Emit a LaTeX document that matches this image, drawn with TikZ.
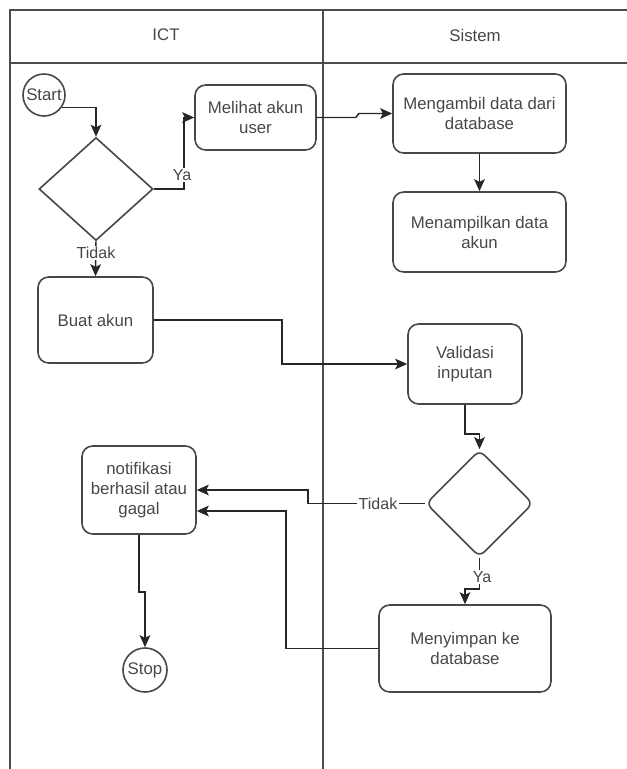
\documentclass[tikz,border=0pt]{standalone}
\usepackage{fontspec}
\setmainfont{Liberation Sans}
\usetikzlibrary{shapes.geometric,arrows.meta,calc}
\begin{document}
\begin{tikzpicture}[x=0.75pt,y=-0.75pt,
  every node/.style={font=\fontsize{12.6}{15}\selectfont, text=black!72},
  sz/.style 2 args={minimum width=#1*0.75pt, minimum height=#2*0.75pt},
  box/.style={draw=black!72, line width=1.2pt, rounded corners=8pt, align=center, inner sep=0pt},
  term/.style={draw=black!72, line width=1.2pt, circle, inner sep=0pt, minimum size=31.5pt},
  choice/.style={draw=black!72, line width=1.2pt, diamond, inner sep=0pt},
  lbl/.style={fill=white, inner sep=1pt, font=\fontsize{12}{13}\selectfont},
  lane/.style={draw=black!70, line width=1.4pt},
  arr/.style={draw=black!85, line width=1.1pt, -{Stealth[length=9pt,width=8pt,inset=2pt]}}]
\useasboundingbox (0,0) rectangle (627,769);

% swimlane frame
\draw[lane] (10,769) -- (10,10) -- (627,10);
\draw[lane, line width=2.2pt] (10,63) -- (627,63);
\draw[lane] (323,10) -- (323,769);
\node (lanea) at (166,35) {ICT};
\node (laneb) at (475,35) {Sistem};

% activities
\node[term] (start) at (44,95) {Start};
\node[choice, sz={114}{103}] (dec1) at (96,189) {};
\node[box, sz={121}{65}] (melihat) at (255.5,117.5) {Melihat akun\\user};
\node[box, sz={173}{79}] (ambil) at (479.5,113.5) {Mengambil data dari\\database};
\node[box, sz={173}{80}] (tampil) at (479.5,232) {Menampilkan data\\akun};
\node[box, sz={115}{86}] (buat) at (95.5,320) {Buat akun};
\node[box, sz={114}{80}] (valid) at (465,364) {Validasi\\inputan};
\node[choice, rounded corners=5pt, sz={107}{107}] (dec2) at (479.5,503.5) {};
\node[box, sz={114}{88}] (notif) at (139,490) {notifikasi\\berhasil atau\\gagal};
\node[box, sz={172}{87}] (simpan) at (465,648.5) {Menyimpan ke\\database};
\node[term, minimum size=33pt] (stop) at (145,670) {Stop};

% flows
\draw[arr] (start.-35) -| (dec1.north);
\draw[arr] (dec1.east) -- ++(30,0) |- (melihat.west);
\node[lbl] (ya1) at (182,175) {Ya};
\draw[arr] (dec1.south) -- (buat.north);
\node[lbl] (tidak1) at (96,253) {Tidak};
\draw[arr] (melihat.east) -- ++(39,0) -- ++(3,-4) -- (ambil.west);
\draw[arr] (ambil.south) -- (tampil.north);
\draw[arr] (buat.east) -- ++(128,0) |- (valid.west);
\draw[arr] (valid.south) -- ++(0,29) -| (dec2.north);
\draw[arr] (dec2.west) -- ++(-117,0) |- (notif.east);
\node[lbl] (tidak2) at (378,503.5) {Tidak};
\draw[arr] (dec2.south) -- ++(0,31) -| (simpan.north);
\node[lbl] (ya2) at (482,577) {Ya};
\draw[arr] (simpan.west) -- ++(-92,0) |- ($(notif.east)+(0,21)$);
\draw[arr] (notif.south) -- ++(0,57) -| (stop.north);
\end{tikzpicture}
\end{document}
